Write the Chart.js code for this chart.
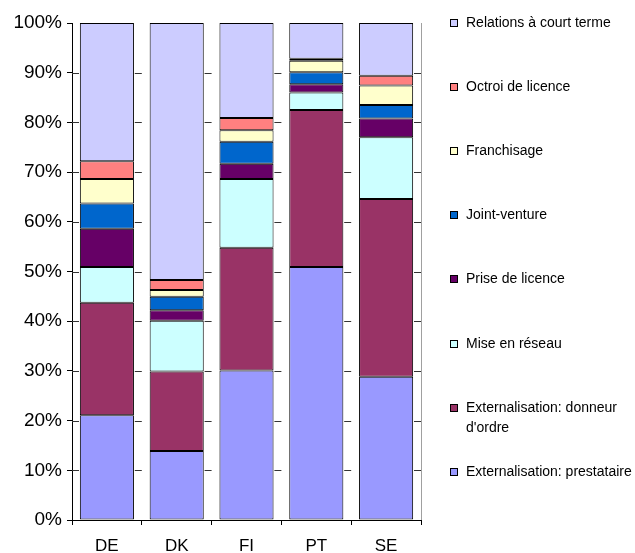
<!DOCTYPE html>
<html>
<head>
<meta charset="utf-8">
<script src="https://cdn.jsdelivr.net/npm/chart.js@4"></script>
<style>
  html, body { margin: 0; padding: 0; background: #ffffff; }
  #wrap { width: 635px; height: 553px; }
</style>
</head>
<body>
<div id="wrap"><canvas id="c" width="635" height="553"></canvas></div>
<script>
// Pays
const countries = ['DE', 'DK', 'FI', 'PT', 'SE'];

// Parts (%) par type de relation, de bas en haut de la pile
const prestataire  = [21.1, 13.9, 30.1, 50.9, 28.8];
const donneurOrdre = [22.6, 16.0, 24.7, 31.6, 35.8];
const reseau       = [ 7.2, 10.2, 13.8,  3.5, 12.4];
const priseLic     = [ 7.7,  2.1,  3.1,  1.7,  3.8];
const jointVenture = [ 5.1,  2.7,  4.4,  2.4,  2.7];
const franchisage  = [ 4.9,  1.4,  2.3,  2.3,  3.9];
const octroiLic    = [ 3.6,  2.0,  2.5,  0.4,  2.0];
const courtTerme   = [27.8, 51.7, 19.1,  7.2, 10.6];

// Libellés des séries (lignes de légende)
const seriesLabels = [
  ['Externalisation: prestataire'],
  ['Externalisation: donneur', "d'ordre"],
  ['Mise en réseau'],
  ['Prise de licence'],
  ['Joint-venture'],
  ['Franchisage'],
  ['Octroi de licence'],
  ['Relations à court terme']
];
const seriesValues = [prestataire, donneurOrdre, reseau, priseLic, jointVenture, franchisage, octroiLic, courtTerme];
const seriesColors = ['#9999FF', '#993366', '#CCFFFF', '#660066', '#0066CC', '#FFFFCC', '#FF8080', '#CCCCFF'];

// Graduations de l'axe vertical
const yTickValues = [0, 10, 20, 30, 40, 50, 60, 70, 80, 90, 100];
const yTickLabels = yTickValues.map(v => v + '%');

const FONT = '"Liberation Sans", Arial, sans-serif';

const datasets = seriesValues.map((vals, i) => ({
  label: seriesLabels[i].join(' '),
  legendLines: seriesLabels[i],
  data: vals,
  backgroundColor: seriesColors[i],
  borderColor: '#000000',
  borderWidth: 1,
  borderSkipped: false,
  barPercentage: 0.775,
  categoryPercentage: 1.0
}));

// Bord droit, traits de quadrillage dans les intervalles, et légende à droite
const frameAndLegend = {
  id: 'frameAndLegend',
  afterDraw(chart) {
    const ctx = chart.ctx;
    const a = chart.chartArea;
    const xs = chart.scales.x;
    const ys = chart.scales.y;
    const step = (a.right - a.left) / countries.length;
    ctx.save();

    // courts traits de quadrillage entre les barres
    ctx.strokeStyle = '#333333';
    ctx.lineWidth = 1;
    ctx.beginPath();
    yTickValues.forEach(v => {
      if (v === 0 || v === 100) return;
      const y = Math.round(ys.getPixelForValue(v)) + 0.5;
      ctx.moveTo(a.left, y);
      ctx.lineTo(a.left + 7, y);
      countries.forEach((c, i) => {
        const edge = xs.getPixelForValue(i) + step / 2;
        ctx.moveTo(edge - 7, y);
        ctx.lineTo(edge, y);
      });
    });
    ctx.stroke();

    // bord droit de la zone de tracé
    ctx.strokeStyle = '#a0a0a0';
    ctx.beginPath();
    ctx.moveTo(Math.round(a.right) + 0.5, a.top);
    ctx.lineTo(Math.round(a.right) + 0.5, a.bottom);
    ctx.stroke();

    // légende (ordre inverse de la pile)
    ctx.font = '14px ' + FONT;
    ctx.textBaseline = 'middle';
    ctx.textAlign = 'left';
    const ds = chart.data.datasets;
    for (let k = 0; k < ds.length; k++) {
      const d = ds[ds.length - 1 - k];
      const cy = Math.round(23 + k * 64.1);
      ctx.fillStyle = d.backgroundColor;
      ctx.fillRect(450, cy - 4, 8, 8);
      ctx.strokeStyle = '#000000';
      ctx.strokeRect(450.5, cy - 3.5, 7, 7);
      ctx.fillStyle = '#000000';
      d.legendLines.forEach((line, j) => {
        ctx.fillText(line, 466, cy + j * 20);
      });
    }
    ctx.restore();
  }
};

new Chart(document.getElementById('c'), {
  type: 'bar',
  data: { labels: countries, datasets },
  options: {
    responsive: false,
    animation: false,
    devicePixelRatio: 1,
    layout: { padding: { left: 0, top: 23, right: 214, bottom: 0 } },
    plugins: { legend: { display: false }, tooltip: { enabled: false } },
    scales: {
      x: {
        stacked: true,
        grid: { offset: true, drawOnChartArea: false, drawTicks: true, tickLength: 5, color: '#000000' },
        border: { display: true, color: '#000000' },
        ticks: { color: '#000000', padding: 11, font: { family: FONT, size: 17 } },
        afterFit(s) { s.height = 33; }
      },
      y: {
        stacked: true,
        min: 0,
        max: 100,
        afterBuildTicks(s) { s.ticks = yTickValues.map(v => ({ value: v })); },
        grid: {
          drawOnChartArea: false,
          color: '#000000',
          tickLength: 5,
          lineWidth: 1
        },
        border: { display: true, color: '#000000' },
        ticks: {
          color: '#000000',
          padding: 5,
          font: { family: FONT, size: 19 },
          callback: (v) => yTickLabels[yTickValues.indexOf(v)]
        },
        afterFit(s) { s.width = 72; }
      }
    }
  },
  plugins: [frameAndLegend]
});
</script>
</body>
</html>
